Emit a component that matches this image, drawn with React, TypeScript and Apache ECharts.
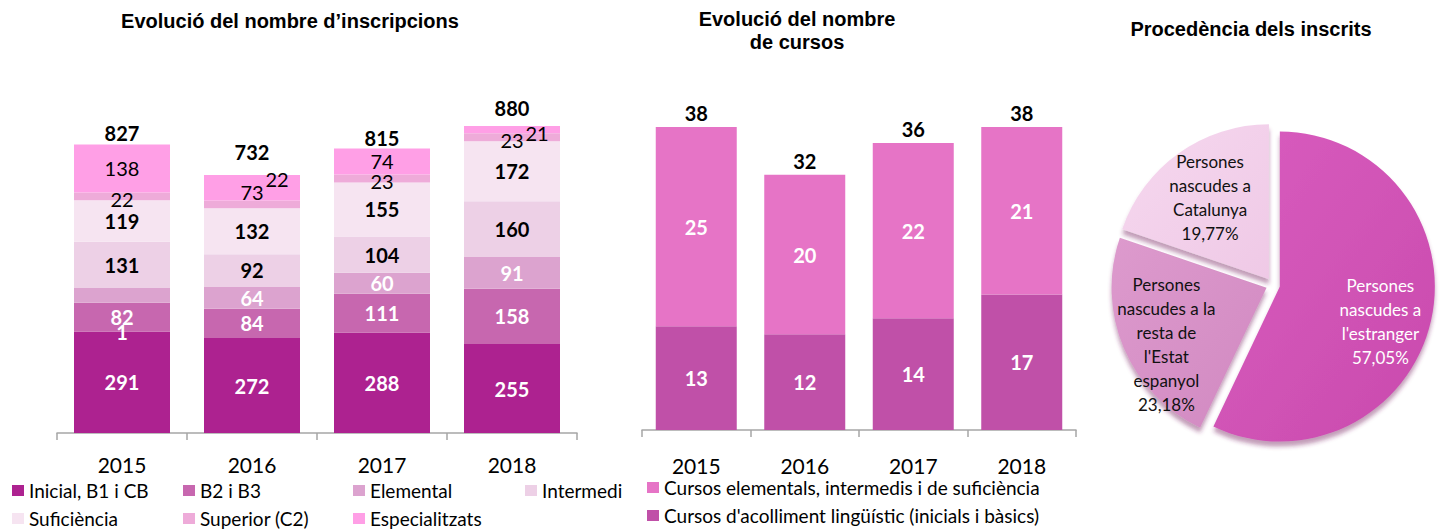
import React, { useEffect, useRef } from 'react';
import * as echarts from 'echarts';

// ---------- data ----------
const years = ['2015', '2016', '2017', '2018'];

const inscNames = ['Inicial, B1 i CB', 'B2 i B3', 'Elemental', 'Intermedi', 'Suficiència', 'Superior (C2)', 'Especialitzats'];
const inicial = [291, 272, 288, 255];
const b2b3 = [82, 84, 111, 158];
const elemental = [44, 64, 60, 91];
const intermedi = [131, 92, 104, 160];
const suficiencia = [119, 132, 155, 172];
const superior = [22, 22, 23, 23];
const especialitzats = [138, 73, 74, 21];
const inscTotals = [827, 732, 815, 880];

const cursosNames = ['Cursos elementals, intermedis i de suficiència', "Cursos d'acolliment lingüístic (inicials i bàsics)"];
const cursosElementals = [25, 20, 22, 21];
const cursosAcolliment = [13, 12, 14, 17];
const cursosTotals = [38, 32, 36, 38];

const pieNames = ["Persones nascudes a l'estranger", "Persones nascudes a la resta de l'Estat espanyol", 'Persones nascudes a Catalunya'];
const pieValues = [57.05, 23.18, 19.77];
const pieLabelLines = [
  ['Persones', 'nascudes a', "l'estranger"],
  ['Persones', 'nascudes a la', 'resta de', "l'Estat", 'espanyol'],
  ['Persones', 'nascudes a', 'Catalunya'],
];

// ---------- styles ----------
const FONT = 'Lato';
const TITLE_FONT = 'Liberation Sans';
const inscColors = ['#ad2290', '#c767af', '#dca3cf', '#edd0e6', '#f6e4f1', '#eeabd9', '#ff9fe6'];
const inscLabelColors = ['#fff', '#fff', '#fff', '#000', '#000', '#000', '#000'];
const inscLabelWeights = ['bold', 'bold', 'bold', 'bold', 'bold', 'normal', 'normal'];
const cursosColors = ['#e674c6', '#c050a8'];
const pieColors = [
  ['#d95dbf', '#c94aad'],
  ['#dd9acd', '#d189c1'],
  ['#f6d8ef', '#efc9e6'],
];
const pieLabelColors = ['#fff', '#111', '#111'];
const pieLabelShift = [[22, 17], [-26, 25], [-12, -16]];
const inscTotalDistance = [1, 15, 0, 7];

// per-item label tweaks: [seriesIndex, dataIndex] -> label options
const labelTweaks: Record<string, any> = {
  '2-0': { formatter: '1', offset: [0, 37] },
  '5-1': { offset: [25, -25] },
  '6-1': { offset: [0, 4] },
  '6-3': { offset: [25, 3] },
};

const axisCommon = {
  type: 'category',
  data: years,
  axisLine: { lineStyle: { color: '#a6a6a6', width: 1.5 } },
  axisTick: { show: true, length: 7, lineStyle: { color: '#a6a6a6', width: 1.5 } },
  axisLabel: { color: '#000', fontFamily: FONT, fontSize: 21 },
};

const legendCommon = {
  orient: 'vertical',
  padding: 0,
  itemWidth: 12,
  itemHeight: 11,
  itemGap: 9,
  icon: 'rect',
  selectedMode: false,
  textStyle: { fontFamily: FONT, fontSize: 19, lineHeight: 19, color: '#000' },
};

function buildOption() {
  const inscData = [inicial, b2b3, elemental, intermedi, suficiencia, superior, especialitzats];

  const inscSeries = inscData.map((vals, si) => ({
    name: inscNames[si],
    type: 'bar',
    stack: 'insc',
    xAxisIndex: 0,
    yAxisIndex: 0,
    barWidth: 96,
    itemStyle: { color: inscColors[si] },
    label: {
      show: true,
      position: 'inside',
      fontFamily: FONT,
      fontSize: 20,
      fontWeight: inscLabelWeights[si],
      color: inscLabelColors[si],
      offset: si === 5 ? [0, 3] : [0, 0],
    },
    data: vals.map((v, di) => {
      const t = labelTweaks[`${si}-${di}`];
      return t ? { value: v, label: t } : v;
    }),
  }));

  const totalLabel = { show: true, position: 'top', fontFamily: FONT, fontSize: 20, fontWeight: 'bold', color: '#000', opacity: 1 };

  const inscTotalSeries = {
    type: 'scatter',
    xAxisIndex: 0,
    yAxisIndex: 0,
    symbolSize: 1,
    itemStyle: { color: 'rgba(0,0,0,0)', opacity: 1 },
    silent: true,
    z: 10,
    label: totalLabel,
    data: inscTotals.map((v, i) => ({ value: v, label: { distance: inscTotalDistance[i] } })),
  };

  const cursosSeries = [cursosAcolliment, cursosElementals].map((vals, k) => {
    const idx = k === 0 ? 1 : 0;
    return {
      name: cursosNames[idx],
      type: 'bar',
      stack: 'cursos',
      xAxisIndex: 1,
      yAxisIndex: 1,
      barWidth: 81,
      itemStyle: { color: cursosColors[idx] },
      label: { show: true, position: 'inside', fontFamily: FONT, fontSize: 20, fontWeight: 'bold', color: '#fff' },
      data: vals,
    };
  });

  const cursosTotalSeries = {
    type: 'scatter',
    xAxisIndex: 1,
    yAxisIndex: 1,
    symbolSize: 1,
    itemStyle: { color: 'rgba(0,0,0,0)', opacity: 1 },
    silent: true,
    z: 10,
    label: { ...totalLabel, distance: 3 },
    data: cursosTotals,
  };

  const pieSeries = {
    type: 'pie',
    center: [1273, 285],
    radius: 155,
    startAngle: 90,
    clockwise: true,
    selectedMode: 'multiple',
    selectedOffset: 7,
    emphasis: { disabled: true },
    itemStyle: { shadowBlur: 4, shadowOffsetY: 5, shadowColor: 'rgba(120,40,100,0.45)' },
    label: {
      show: true,
      position: 'inside',
      fontFamily: FONT,
      fontSize: 17,
      lineHeight: 24,
      align: 'center',
    },
    labelLine: { show: false },
    labelLayout: (params: any) => ({ dx: pieLabelShift[params.dataIndex][0], dy: pieLabelShift[params.dataIndex][1] }),
    data: pieValues.map((v, i) => ({
      name: pieNames[i],
      value: v,
      selected: true,
      itemStyle: {
        color: new echarts.graphic.LinearGradient(0, 0, 1, 1, [
          { offset: 0, color: pieColors[i][0] },
          { offset: 1, color: pieColors[i][1] },
        ]),
      },
      label: {
        color: pieLabelColors[i],
        formatter: pieLabelLines[i].join('\n') + '\n' + v.toFixed(2).replace('.', ',') + '%',
      },
    })),
  };

  const titleStyle = { fontFamily: TITLE_FONT, fontSize: 20, fontWeight: 'bold', color: '#000', lineHeight: 23 };

  return {
    animation: false,
    backgroundColor: '#fff',
    title: [
      { text: 'Evolució del nombre d’inscripcions', left: 290, top: 9, textAlign: 'center', textVerticalAlign: 'top', padding: 0, textStyle: titleStyle },
      { text: 'Evolució del nombre\nde cursos', left: 797, top: 7, textAlign: 'center', textVerticalAlign: 'top', padding: 0, textStyle: titleStyle },
      { text: 'Procedència dels inscrits', left: 1251, top: 17, textAlign: 'center', textVerticalAlign: 'top', padding: 0, textStyle: titleStyle },
    ],
    legend: [
      { ...legendCommon, data: [inscNames[0], inscNames[4]], left: 12, top: 481 },
      { ...legendCommon, data: [inscNames[1], inscNames[5]], left: 183, top: 481 },
      { ...legendCommon, data: [inscNames[2], inscNames[6]], left: 353, top: 481 },
      { ...legendCommon, data: [inscNames[3]], left: 525, top: 481 },
      { ...legendCommon, data: [cursosNames[0], cursosNames[1]], left: 647, top: 478 },
    ],
    grid: [
      { left: 57, top: 84, width: 520, height: 349 },
      { left: 642, top: 111, width: 434, height: 319 },
    ],
    xAxis: [
      { ...axisCommon, gridIndex: 0, axisLabel: { ...axisCommon.axisLabel, margin: 21 } },
      { ...axisCommon, gridIndex: 1, axisLabel: { ...axisCommon.axisLabel, margin: 25 } },
    ],
    yAxis: [
      { type: 'value', gridIndex: 0, min: 0, max: 1000, show: false },
      { type: 'value', gridIndex: 1, min: 0, max: 40, show: false },
    ],
    series: [...inscSeries, inscTotalSeries, ...cursosSeries, cursosTotalSeries, pieSeries],
  };
}

export default function App() {
  const ref = useRef<HTMLDivElement>(null);
  useEffect(() => {
    document.body.style.margin = '0';
    const chart = echarts.init(ref.current as HTMLDivElement, null, { renderer: 'svg' });
    chart.setOption(buildOption() as any);
    return () => chart.dispose();
  }, []);
  return <div ref={ref} style={{ width: 1448, height: 530 }} />;
}
